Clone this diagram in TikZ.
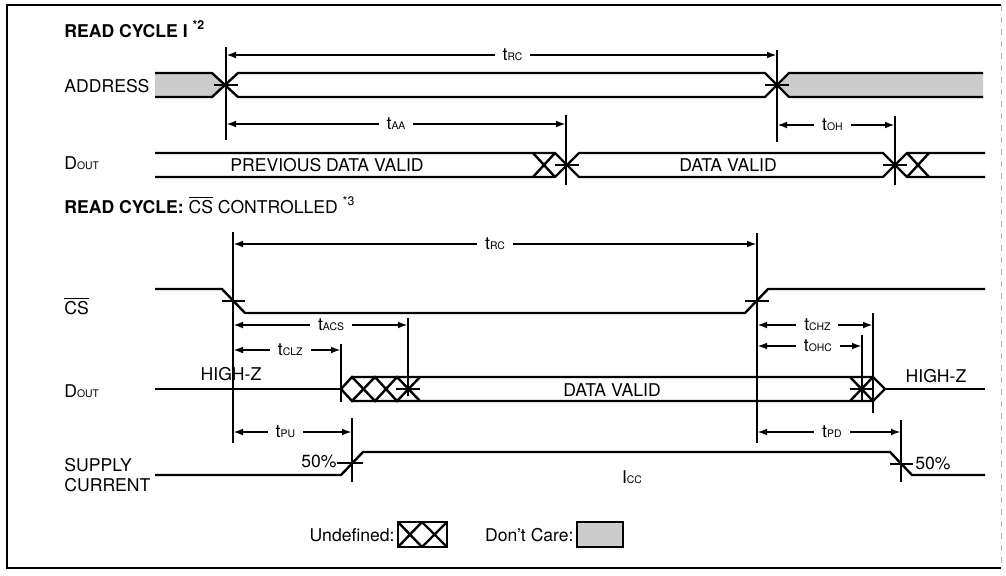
\documentclass[tikz,border=0pt]{standalone}
\usepackage{fontspec}
\setmainfont{TeX Gyre Heros}
\usetikzlibrary{arrows.meta}
\newcommand{\subc}[1]{{\fontsize{5.2}{6}\selectfont #1}}
\begin{document}
\begin{tikzpicture}[x=0.5pt,y=-0.5pt,font=\fontsize{8.8}{10.5}\selectfont,
  sig/.style={line width=1.2pt},
  tickline/.style={line width=1.1pt},
  dontcare/.style={fill=black!20},
  dim/.style={{Latex[length=5pt,width=3.4pt]}-{Latex[length=5pt,width=3.4pt]},line width=1pt},
  dimlab/.style={fill=white,inner xsep=4pt,inner ysep=1pt},
  lab/.style={anchor=west,inner sep=0pt}]
\useasboundingbox (0,0) rectangle (1006,575);
\draw[line width=1.2pt] (1001,5) -- (7,5) -- (7,568) -- (1001,568);
\draw[gray!60,dashed,thin] (1001,5) -- (1001,568);

\node[lab,font=\bfseries\fontsize{8.8}{10.5}\selectfont] (title1) at (64,29) {READ CYCLE I \textsuperscript{*2}};
\node[lab] (addr) at (64,86) {ADDRESS};
\node[lab] (dout1) at (64,163) {D\subc{OUT}};

\fill[dontcare] (155,73) -- (212,73) -- (226,85) -- (212,97) -- (155,97) -- cycle;
\fill[dontcare] (777,85) -- (789,73) -- (983,73) -- (983,97) -- (789,97) -- cycle;
\draw[sig] (155,73) -- (212,73) -- (238,97) -- (765,97) -- (789,73) -- (983,73);
\draw[sig] (155,97) -- (212,97) -- (238,73) -- (765,73) -- (789,97) -- (983,97);
\draw[tickline] (214,85) -- (238,85);
\draw[tickline] (765,85) -- (789,85);

\draw[sig] (155,153) -- (555,153) -- (579,177) -- (883,177) -- (907,153) -- (985,153);
\draw[sig] (155,177) -- (555,177) -- (579,153) -- (883,153) -- (907,177) -- (985,177);
\draw[sig] (533,153) -- (555,177) (533,177) -- (555,153);
\draw[sig] (907,153) -- (929,177) (907,177) -- (929,153);
\draw[tickline] (555,165) -- (579,165);
\draw[tickline] (883,165) -- (907,165);
\node (prev) at (327,165) {PREVIOUS DATA VALID};
\node (valid1) at (728,165) {DATA VALID};

\draw[tickline] (226,47) -- (226,140);
\draw[tickline] (777,50) -- (777,142);
\draw[tickline] (566,115) -- (566,185);
\draw[tickline] (895,116) -- (895,185);

\coordinate (rcA) at (226,55);
\coordinate (rcB) at (777,55);
\coordinate (aaA) at (226,124);
\coordinate (aaB) at (566,124);
\coordinate (ohA) at (777,125);
\coordinate (ohB) at (895,125);
\draw[dim] (rcA) -- node[dimlab,pos=.52] (tRC) {t\subc{RC}} (rcB);
\draw[dim] (aaA) -- node[dimlab] (tAA) {t\subc{AA}} (aaB);
\draw[dim] (ohA) -- node[dimlab,pos=.47] (tOH) {t\subc{OH}} (ohB);

\node[lab] (title2) at (64,205) {\bfseries READ CYCLE:\mdseries\ $\overline{\mbox{CS}}$ CONTROLLED \textsuperscript{*3}};
\node[lab] (cs) at (64,306) {$\overline{\mbox{CS}}$};
\node[lab] (dout2) at (64,391) {D\subc{OUT}};
\node[lab,align=left,font=\fontsize{8.8}{10}\selectfont] (supply) at (64,475) {SUPPLY\\CURRENT};

\draw[sig] (155,289) -- (222,289) -- (245,313) -- (745,313) -- (768,289) -- (985,289);
\draw[tickline] (222,301) -- (245,301);
\draw[tickline] (745,301) -- (769,301);

\draw[sig] (155,389) -- (341,389);
\draw[sig] (341,389) -- (352,377) -- (375,401) -- (397,377) -- (420,401);
\draw[sig] (341,389) -- (352,401) -- (375,377) -- (397,401) -- (420,377);
\draw[sig] (352,377) -- (873,377) -- (885,389) -- (873,401) -- (352,401);
\draw[sig] (850,377) -- (873,401) (850,401) -- (873,377);
\draw[sig] (885,389) -- (985,389);
\draw[tickline] (396,389) -- (420,389);
\draw[tickline] (850,389) -- (873,389);
\node (hiz1) at (231,374) {HIGH-Z};
\node (hiz2) at (936,376) {HIGH-Z};
\node (valid2) at (612,390) {DATA VALID};

\draw[sig] (155,475) -- (341,475) -- (363,452) -- (890,452) -- (912,475) -- (985,475);
\draw[tickline] (337,463) -- (363,463);
\draw[tickline] (890,464) -- (913,464);
\node[anchor=east,inner sep=0pt] (pcL) at (337,461) {50\%};
\node[anchor=west,inner sep=0pt] (pcR) at (915,463) {50\%};
\node (icc) at (632,477) {I\subc{CC}};

\draw[tickline] (233,232) -- (233,443);
\draw[tickline] (757,233) -- (757,443);
\draw[tickline] (408,318) -- (408,396);
\draw[tickline] (341,344) -- (341,402);
\draw[tickline] (862,335) -- (862,400);
\draw[tickline] (873,313) -- (873,413);
\draw[tickline] (352,418) -- (352,482);
\draw[tickline] (901,420) -- (901,482);

\coordinate (rc2A) at (233,244);
\coordinate (rc2B) at (757,244);
\coordinate (acsA) at (233,325);
\coordinate (acsB) at (408,325);
\coordinate (clzA) at (233,350);
\coordinate (clzB) at (341,350);
\coordinate (chzA) at (757,325);
\coordinate (chzB) at (873,325);
\coordinate (ohcA) at (757,346);
\coordinate (ohcB) at (862,346);
\coordinate (puA) at (233,432);
\coordinate (puB) at (352,432);
\coordinate (pdA) at (757,432);
\coordinate (pdB) at (901,432);
\draw[dim] (rc2A) -- node[dimlab] (tRC2) {t\subc{RC}} (rc2B);
\draw[dim] (acsA) -- node[dimlab,pos=.56] (tACS) {t\subc{ACS}} (acsB);
\draw[dim] (clzA) -- node[dimlab,pos=.53] (tCLZ) {t\subc{CLZ}} (clzB);
\draw[dim] (chzA) -- node[dimlab,pos=.52] (tCHZ) {t\subc{CHZ}} (chzB);
\draw[dim] (ohcA) -- node[dimlab,pos=.58] (tOHC) {t\subc{OHC}} (ohcB);
\draw[dim] (puA) -- node[dimlab,pos=.44] (tPU) {t\subc{PU}} (puB);
\draw[dim] (pdA) -- node[dimlab,pos=.52] (tPD) {t\subc{PD}} (pdB);

\node[anchor=east,inner sep=1pt] (undef) at (397,535) {Undefined:};
\draw[line width=1.2pt] (398,522) rectangle (447,547);
\draw[sig] (398,522) -- (422,547) (398,547) -- (422,522) (422,522) -- (447,547) (422,547) -- (447,522);
\node[anchor=east,inner sep=1pt] (dcare) at (576,535) {Don't Care:};
\draw[line width=1.2pt,dontcare] (577,522) rectangle (623,547);
\end{tikzpicture}
\end{document}
